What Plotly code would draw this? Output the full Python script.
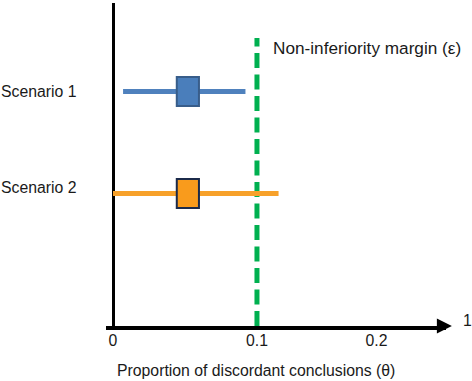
import plotly.graph_objects as go

# ---- data ----
scenarios = ["Scenario 1", "Scenario 2"]
estimate = [0.052, 0.052]
lower = [0.007, 0.0]
upper = [0.092, 0.115]
margin_eps = 0.1
margin_label = "Non-inferiority margin (ε)"
tick_positions = [0, 0.1, 0.183]
tick_labels = ["0", "0.1", "0.2"]
x_title = "Proportion of discordant conclusions (θ)"

# ---- layout constants ----
row_y = [2.345, 1.325]
line_colors = ["#4f81bd", "#f7a12a"]
box_fill = ["#4a7ebb", "#f99b1c"]
box_edge = ["#385d8a", "#1b2a4a"]
FONT = "Arial, 'Liberation Sans', sans-serif"
TXT = "#1a1a1a"
FS = 15.8

fig = go.Figure()

# non-inferiority margin
fig.add_trace(go.Scatter(
    x=[margin_eps, margin_eps], y=[0, 2.88], mode="lines",
    line=dict(color="#00b050", width=5, dash="15px,6.5px"),
    hoverinfo="skip", showlegend=False))

half_w, half_h = 0.0077, 0.145
for i, name in enumerate(scenarios):
    fig.add_trace(go.Scatter(
        x=[lower[i], upper[i]], y=[row_y[i], row_y[i]], mode="lines",
        line=dict(color=line_colors[i], width=5),
        name=name, showlegend=False))
    fig.add_shape(type="rect", xref="x", yref="y",
                  x0=estimate[i] - half_w, x1=estimate[i] + half_w,
                  y0=row_y[i] - half_h, y1=row_y[i] + half_h,
                  fillcolor=box_fill[i], line=dict(color=box_edge[i], width=2))
    fig.add_annotation(xref="paper", yref="y", x=(79 - 106) / 340, y=row_y[i],
                       yshift=(0 if i == 0 else 6),
                       text=name, showarrow=False, xanchor="right",
                       font=dict(family=FONT, size=FS, color=TXT))

fig.add_annotation(xref="x", yref="y", x=margin_eps, y=2.78, xshift=14,
                   text=margin_label, showarrow=False, xanchor="left",
                   font=dict(family=FONT, size=17.2, color=TXT))

# arrow head of x axis
fig.add_annotation(xref="x", yref="y", x=0.2354, y=0, ax=0.2270, ay=0,
                   axref="x", ayref="y", text="", showarrow=True,
                   arrowhead=2, arrowsize=1, arrowwidth=3, arrowcolor="black")
fig.add_annotation(xref="paper", yref="paper", x=(467 - 106) / 340, y=0.01,
                   yshift=-8,
                   text="1", showarrow=False, xanchor="center",
                   font=dict(family=FONT, size=FS, color=TXT))

# x title
fig.add_annotation(xref="paper", yref="paper", x=(256 - 106) / 340, y=0,
                   yshift=-44, yanchor="middle",
                   text=x_title, showarrow=False,
                   font=dict(family=FONT, size=FS, color=TXT))

fig.update_layout(
    width=472, height=381,
    margin=dict(l=106, r=26, t=3, b=55, autoexpand=False),
    paper_bgcolor="white", plot_bgcolor="white",
    font=dict(family=FONT, size=FS, color=TXT),
    xaxis=dict(range=[-0.00486, 0.2313], showgrid=False,
               zeroline=True, zerolinewidth=3, zerolinecolor="black",
               showline=True, linewidth=4, linecolor="black",
               tickmode="array", tickvals=tick_positions, ticktext=tick_labels,
               ticks="", ticklabelstandoff=-3,
               tickfont=dict(family=FONT, size=FS, color=TXT)),
    yaxis=dict(range=[0, 3.23], showgrid=False, zeroline=False,
               showticklabels=False, ticks=""),
)

fig.write_html("out.html", config={"displayModeBar": False},
               post_script="document.body.style.margin='0';document.body.style.overflow='hidden';")
